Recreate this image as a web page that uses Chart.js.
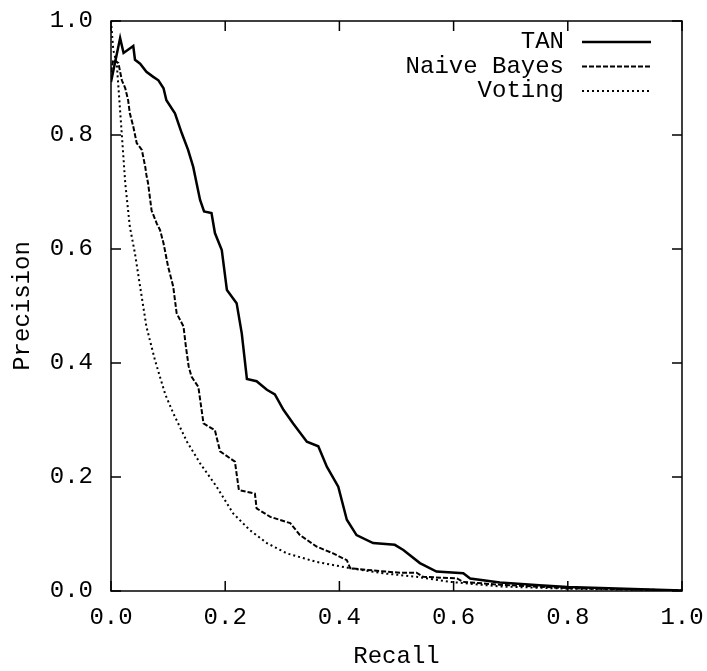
<!DOCTYPE html>
<html>
<head>
<meta charset="utf-8">
<script src="https://cdn.jsdelivr.net/npm/chart.js@4/dist/chart.umd.min.js"></script>
<style>
  html, body { margin: 0; padding: 0; background: #fff; }
  #wrap { width: 707px; height: 671px; }
</style>
</head>
<body>
<div id="wrap"><canvas id="prChart"></canvas></div>
<script>
// Graduations des axes
const xTicks = [0, 0.2, 0.4, 0.6, 0.8, 1.0];
const yTicks = [0, 0.2, 0.4, 0.6, 0.8, 1.0];

// Courbe TAN (rappel / précision)
const tanRecall = [0, 0.016, 0.022, 0.039, 0.042, 0.051, 0.062, 0.074, 0.083, 0.092,
    0.097, 0.112, 0.124, 0.135, 0.144, 0.150, 0.156, 0.163, 0.176, 0.182,
    0.194, 0.203, 0.220, 0.229, 0.238, 0.255, 0.273, 0.287, 0.302, 0.319,
    0.343, 0.363, 0.378, 0.398, 0.413, 0.430, 0.459, 0.497, 0.512, 0.541,
    0.570, 0.617, 0.629, 0.681, 0.75, 0.8, 0.9, 1.0];
const tanPrecision = [0.893, 0.970, 0.944, 0.956, 0.932, 0.925, 0.911, 0.902, 0.896, 0.882,
    0.861, 0.838, 0.803, 0.774, 0.744, 0.715, 0.686, 0.666, 0.663, 0.628,
    0.598, 0.528, 0.505, 0.452, 0.372, 0.368, 0.353, 0.345, 0.318, 0.294,
    0.262, 0.254, 0.218, 0.183, 0.125, 0.098, 0.084, 0.081, 0.072, 0.049,
    0.034, 0.031, 0.022, 0.015, 0.010, 0.007, 0.004, 0.001];

// Courbe Naive Bayes
const nbRecall = [0, 0.004, 0.013, 0.019, 0.025, 0.030, 0.033, 0.039, 0.045, 0.054,
    0.060, 0.062, 0.065, 0.071, 0.080, 0.086, 0.092, 0.100, 0.109, 0.115,
    0.127, 0.131, 0.136, 0.141, 0.153, 0.162, 0.182, 0.191, 0.217, 0.224,
    0.252, 0.255, 0.279, 0.314, 0.331, 0.360, 0.389, 0.413, 0.419, 0.448,
    0.506, 0.535, 0.547, 0.606, 0.617, 0.681, 0.8, 1.0];
const nbPrecision = [0.91, 0.932, 0.926, 0.896, 0.882, 0.861, 0.838, 0.815, 0.786, 0.774,
    0.744, 0.730, 0.715, 0.668, 0.645, 0.633, 0.610, 0.569, 0.534, 0.487,
    0.464, 0.430, 0.394, 0.376, 0.358, 0.294, 0.282, 0.245, 0.227, 0.177,
    0.171, 0.145, 0.130, 0.119, 0.098, 0.078, 0.066, 0.054, 0.040, 0.037,
    0.032, 0.032, 0.025, 0.022, 0.016, 0.011, 0.005, 0.001];

// Courbe Voting
const voteRecall = [0, 0.004, 0.010, 0.014, 0.019, 0.025, 0.033, 0.042, 0.051, 0.062,
    0.077, 0.095, 0.109, 0.133, 0.156, 0.185, 0.214, 0.243, 0.273, 0.308,
    0.360, 0.419, 0.477, 0.535, 0.594, 0.681, 0.8, 1.0];
const votePrecision = [1.0, 0.949, 0.926, 0.870, 0.800, 0.715, 0.639, 0.592, 0.534, 0.464,
    0.405, 0.345, 0.312, 0.262, 0.224, 0.183, 0.136, 0.107, 0.084, 0.066,
    0.051, 0.040, 0.031, 0.025, 0.016, 0.008, 0.004, 0.001];

const seriesLabels = ['TAN', 'Naive Bayes', 'Voting'];

const police = { family: "'Liberation Mono', 'Courier New', monospace", size: 24 };

function toPoints(xs, ys) {
    return xs.map((x, i) => ({ x: x, y: ys[i] }));
}

// Cadre, graduations vers l'intérieur et légende façon gnuplot
const cadrePlugin = {
    id: 'cadre',
    afterDraw(chart) {
        const { ctx, chartArea: a, scales: { x, y } } = chart;
        const trait = (x1, y1, x2, y2) => {
            ctx.beginPath();
            ctx.moveTo(x1, y1);
            ctx.lineTo(x2, y2);
            ctx.stroke();
        };
        ctx.save();
        ctx.strokeStyle = '#000';
        ctx.lineWidth = 1.5;
        ctx.setLineDash([]);
        ctx.strokeRect(a.left, a.top, a.right - a.left, a.bottom - a.top);

        const longueur = 10;
        xTicks.forEach(v => {
            const px = x.getPixelForValue(v);
            trait(px, a.bottom, px, a.bottom - longueur);
            trait(px, a.top, px, a.top + longueur);
        });
        yTicks.forEach(v => {
            const py = y.getPixelForValue(v);
            trait(a.left, py, a.left + longueur, py);
            trait(a.right, py, a.right - longueur, py);
        });

        // Légende
        ctx.font = `${police.size}px ${police.family}`;
        ctx.fillStyle = '#000';
        ctx.textAlign = 'right';
        ctx.textBaseline = 'middle';
        const texteX = a.right - 118;
        chart.data.datasets.forEach((ds, i) => {
            const ly = a.top + 21 + i * 24.5;
            ctx.fillText(ds.label, texteX, ly);
            ctx.lineWidth = ds.borderWidth;
            ctx.setLineDash(ds.borderDash || []);
            trait(texteX + 18, ly, texteX + 87, ly);
        });
        ctx.restore();
    }
};

Chart.defaults.color = '#000';
Chart.defaults.font.family = police.family;
Chart.defaults.font.size = police.size;

const ctx = document.getElementById('prChart').getContext('2d');
new Chart(ctx, {
    type: 'scatter',
    data: {
        datasets: [
            {
                label: seriesLabels[0],
                data: toPoints(tanRecall, tanPrecision),
                showLine: true,
                borderColor: '#000',
                borderWidth: 2.5,
                pointRadius: 0
            },
            {
                label: seriesLabels[1],
                data: toPoints(nbRecall, nbPrecision),
                showLine: true,
                borderColor: '#000',
                borderWidth: 2,
                borderDash: [5, 2],
                pointRadius: 0
            },
            {
                label: seriesLabels[2],
                data: toPoints(voteRecall, votePrecision),
                showLine: true,
                borderColor: '#000',
                borderWidth: 2,
                borderDash: [2, 3],
                pointRadius: 0
            }
        ]
    },
    options: {
        responsive: true,
        maintainAspectRatio: false,
        animation: false,
        layout: { padding: { top: 21, right: 25, left: 0, bottom: 0 } },
        plugins: {
            legend: { display: false },
            tooltip: { enabled: false }
        },
        scales: {
            x: {
                type: 'linear',
                min: 0,
                max: 1,
                grid: { display: false, drawTicks: false },
                border: { display: false },
                ticks: { stepSize: 0.2, padding: 12, callback: v => v.toFixed(1) },
                title: { display: true, text: 'Recall', padding: { top: 2, bottom: 0 } },
                afterFit: scale => {
                    scale.height = 80;
                    scale.paddingLeft = 0;
                    scale.paddingRight = 0;
                }
            },
            y: {
                type: 'linear',
                min: 0,
                max: 1,
                grid: { display: false, drawTicks: false },
                border: { display: false },
                ticks: { stepSize: 0.2, padding: 18, callback: v => v.toFixed(1) },
                title: { display: true, text: 'Precision', padding: { top: 8, bottom: 2 } },
                afterFit: scale => {
                    scale.width = 111;
                    scale.paddingTop = 0;
                    scale.paddingBottom = 0;
                }
            }
        }
    },
    plugins: [cadrePlugin]
});
</script>
</body>
</html>
